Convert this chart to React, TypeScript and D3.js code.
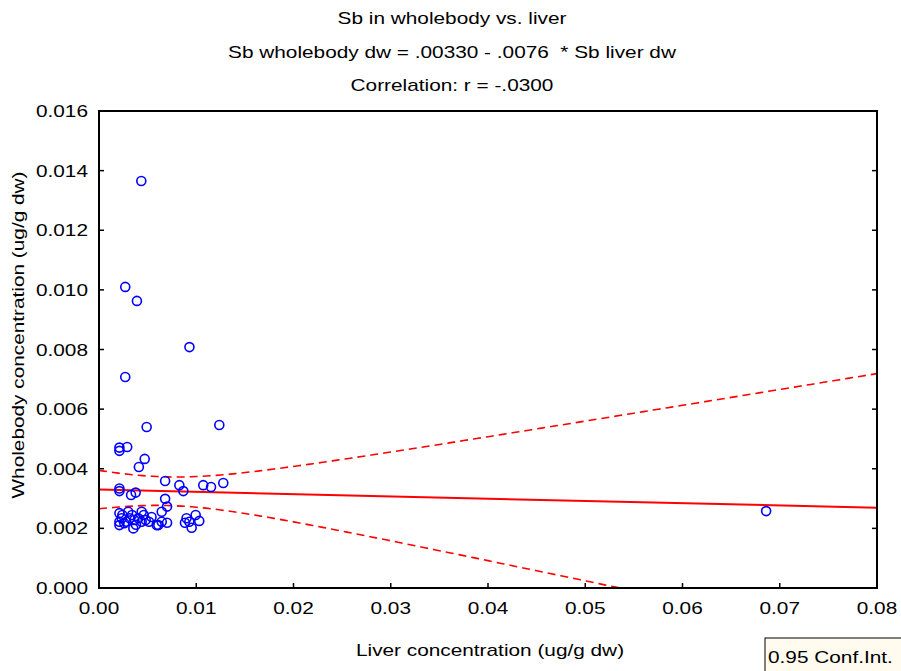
import React from "react";
import * as d3 from "d3";

const titleLines = [
  "Sb in wholebody vs. liver",
  "Sb wholebody dw = .00330 - .0076  * Sb liver dw",
  "Correlation: r = -.0300",
];
const xTicks = [0, 0.01, 0.02, 0.03, 0.04, 0.05, 0.06, 0.07, 0.08];
const yTicks = [0, 0.002, 0.004, 0.006, 0.008, 0.01, 0.012, 0.014, 0.016];
const xLabel = "Liver concentration (ug/g dw)";
const yLabel = "Wholebody concentration (ug/g dw)";
const legendLabel = "0.95 Conf.Int.";

// liver (x) and wholebody (y) concentrations
const liver = [
  0.00435, 0.0027, 0.0039, 0.0093, 0.0027, 0.0049, 0.01237, 0.0021, 0.0021, 0.0029,
  0.0047, 0.0041, 0.0068, 0.00826, 0.00867, 0.01072, 0.01152, 0.01278, 0.0021, 0.0021,
  0.0033, 0.00377, 0.0068, 0.007, 0.00645, 0.00645, 0.007, 0.009, 0.00884, 0.00929,
  0.00953, 0.00994, 0.01031, 0.0021, 0.0021, 0.0021, 0.00233, 0.0026, 0.003, 0.00316,
  0.00353, 0.00363, 0.00404, 0.00439, 0.00439, 0.0048, 0.00514, 0.00593, 0.0061, 0.0686,
  0.0024, 0.0028, 0.0034, 0.0038, 0.0046, 0.0054,
];
const wholebody = [
  0.01365, 0.0101, 0.00963, 0.00808, 0.00708, 0.0054, 0.00547, 0.00471, 0.0046, 0.00473,
  0.00433, 0.00406, 0.00359, 0.00345, 0.00325, 0.00345, 0.00339, 0.00352, 0.00334, 0.00325,
  0.00312, 0.0032, 0.00299, 0.00273, 0.00256, 0.00222, 0.00219, 0.00234, 0.00219, 0.00222,
  0.00202, 0.00245, 0.00225, 0.00251, 0.00222, 0.00211, 0.00234, 0.00217, 0.00256, 0.00234,
  0.002, 0.00228, 0.00234, 0.00256, 0.00222, 0.00228, 0.00222, 0.00211, 0.00211, 0.00258,
  0.00245, 0.00222, 0.00245, 0.00212, 0.00245, 0.00238,
];

const fitIntercept = 0.0033;
const fitSlope = -0.0076;
const ciCenterX = 0.007;
const ciA = 2.3e-7;
const ciB = 3.757e-3;

const W = 901;
const H = 671;
const left = 99;
const right = 877;
const top = 111;
const bottom = 588;
const font = "'Liberation Sans', Arial, sans-serif";
const stretch = 1.3;

function Txt(props: {
  x: number;
  y: number;
  anchor?: string;
  rotate?: number;
  sx?: number;
  children: React.ReactNode;
}) {
  const { x, y, anchor = "start", rotate = 0, sx = stretch, children } = props;
  return (
    <g transform={`translate(${x},${y}) rotate(${rotate}) scale(${sx},1)`}>
      <text x={0} y={0} textAnchor={anchor} fontSize={16} fill="#000" style={{ whiteSpace: "pre" }}>
        {children}
      </text>
    </g>
  );
}

export default function App() {
  const x = d3.scaleLinear().domain([0, 0.08]).range([left, right]);
  const y = d3.scaleLinear().domain([0, 0.016]).range([bottom, top]);
  const xs = d3.range(0, 0.0801, 0.0005);
  const fit = (v: number) => fitIntercept + fitSlope * v;
  const half = (v: number) => Math.sqrt(ciA + ciB * (v - ciCenterX) ** 2);
  const line = d3
    .line<number[]>()
    .x((d) => x(d[0]))
    .y((d) => y(d[1]));
  const fitPath = line([
    [0, fit(0)],
    [0.08, fit(0.08)],
  ]) as string;
  const upper = line(xs.map((v) => [v, fit(v) + half(v)])) as string;
  const lower = line(xs.map((v) => [v, fit(v) - half(v)])) as string;
  const pts = liver.map((v, i) => [v, wholebody[i]]);

  return (
    <svg
      width={W}
      height={H}
      style={{ position: "absolute", left: 0, top: 0, background: "#fff" }}
      fontFamily={font}
    >
      <defs>
        <clipPath id="plotclip">
          <rect x={left} y={top} width={right - left} height={bottom - top} />
        </clipPath>
      </defs>
      {titleLines.map((t, i) => (
        <Txt key={t} x={452} y={24 + i * 33.5} anchor="middle">
          {t}
        </Txt>
      ))}
      <g clipPath="url(#plotclip)">
        <path d={upper} fill="none" stroke="#ff0000" strokeWidth={1.6} strokeDasharray="8,5" />
        <path d={lower} fill="none" stroke="#ff0000" strokeWidth={1.6} strokeDasharray="8,5" />
        <path d={fitPath} fill="none" stroke="#ff0000" strokeWidth={2} />
        {pts.map((p, i) => (
          <circle
            key={i}
            cx={x(p[0])}
            cy={y(p[1])}
            r={4.5}
            fill="none"
            stroke="#0000ff"
            strokeWidth={1.6}
          />
        ))}
      </g>
      <rect
        x={left}
        y={top}
        width={right - left}
        height={bottom - top}
        fill="none"
        stroke="#000"
        strokeWidth={2}
      />
      {yTicks.map((t) => (
        <g key={"y" + t}>
          <line x1={left} x2={left + 5} y1={y(t)} y2={y(t)} stroke="#000" strokeWidth={1.5} />
          <line x1={right - 5} x2={right} y1={y(t)} y2={y(t)} stroke="#000" strokeWidth={1.5} />
          <Txt x={88} y={y(t) + 6} anchor="end">
            {t.toFixed(3)}
          </Txt>
        </g>
      ))}
      {xTicks.map((t) => (
        <g key={"x" + t}>
          <line x1={x(t)} x2={x(t)} y1={bottom} y2={bottom - 5} stroke="#000" strokeWidth={1.5} />
          <Txt x={x(t)} y={614} anchor="middle">
            {t.toFixed(2)}
          </Txt>
        </g>
      ))}
      <Txt x={490} y={656} anchor="middle">
        {xLabel}
      </Txt>
      <Txt x={24} y={335} anchor="middle" rotate={-90}>
        {yLabel}
      </Txt>
      <rect x={765} y={638} width={140} height={34} fill="#fffbef" stroke="#000" strokeWidth={1} />
      <Txt x={768} y={663}>
        {legendLabel}
      </Txt>
    </svg>
  );
}
